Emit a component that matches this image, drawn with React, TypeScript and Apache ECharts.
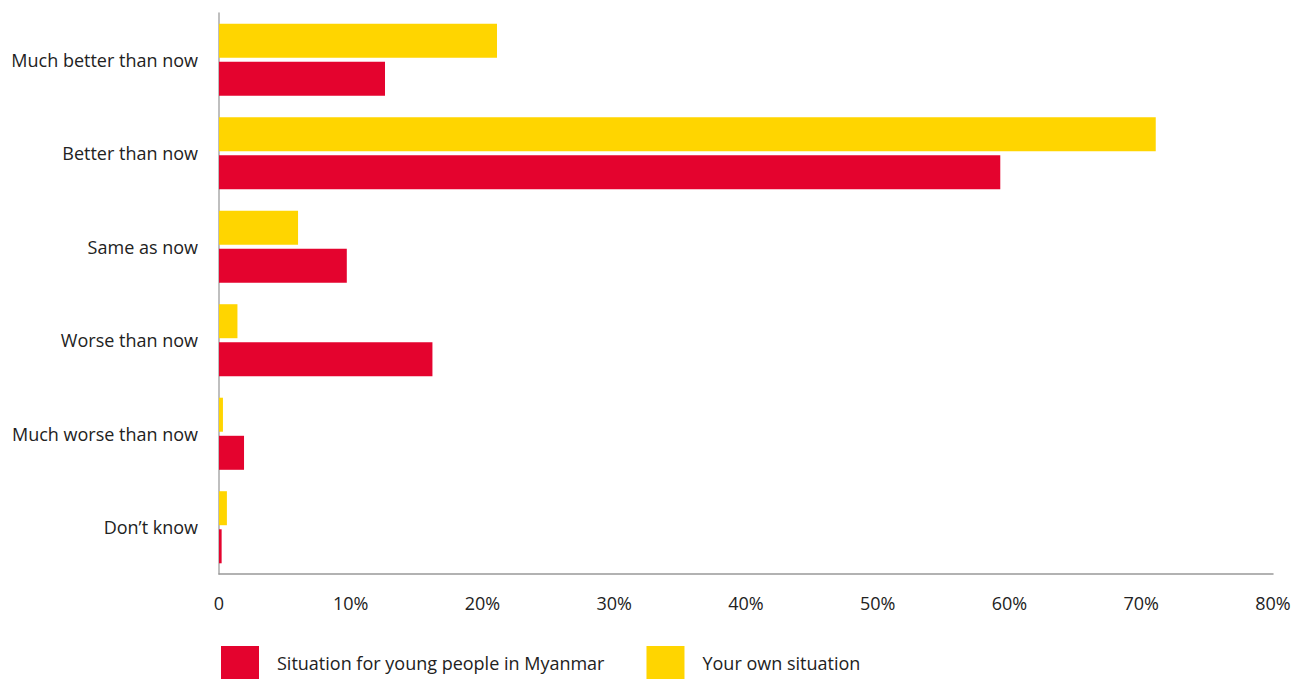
import React, { useEffect, useRef } from "react";
import * as echarts from "echarts";

const categories = [
  "Much better than now",
  "Better than now",
  "Same as now",
  "Worse than now",
  "Much worse than now",
  "Don\u2019t know",
];
const ownSituation = [21.1, 71.1, 6.0, 1.4, 0.3, 0.6];
const youngPeople = [12.6, 59.3, 9.7, 16.2, 1.9, 0.2];
const xTicks = [0, 10, 20, 30, 40, 50, 60, 70, 80];

const FONT = "'Open Sans', 'Noto Sans', sans-serif";

export default function App() {
  const ref = useRef<HTMLDivElement>(null);
  useEffect(() => {
    if (!ref.current) return;
    const chart = echarts.init(ref.current, undefined, { renderer: "svg" });
    chart.setOption({
      animation: false,
      textStyle: { fontFamily: FONT },
      grid: { left: 219, right: 33, top: 13, bottom: 105, containLabel: false },
      legend: {
        data: ["Situation for young people in Myanmar", "Your own situation"],
        left: 221,
        top: 646,
        itemWidth: 38,
        itemHeight: 33,
        itemGap: 42,
        icon: "rect",
        textStyle: { fontSize: 18, color: "#222", fontFamily: FONT, padding: [0, 0, 0, 13] },
        padding: 0,
      },
      xAxis: {
        type: "value",
        min: xTicks[0],
        max: xTicks[xTicks.length - 1],
        interval: 10,
        splitLine: { show: false },
        axisLine: { show: true, lineStyle: { color: "#999", width: 1.5 } },
        axisTick: { show: false },
        axisLabel: {
          fontSize: 18,
          color: "#222",
          margin: 20,
          formatter: (v: number) => (v === 0 ? "0" : v + "%"),
        },
      },
      yAxis: {
        type: "category",
        data: categories,
        inverse: true,
        axisLine: { show: true, lineStyle: { color: "#aaa", width: 1.5 } },
        axisTick: { show: false },
        axisLabel: { fontSize: 18, color: "#222", margin: 21 },
      },
      series: [
        {
          name: "Your own situation",
          type: "bar",
          data: ownSituation,
          barWidth: 34,
          barGap: "12%",
          itemStyle: { color: "#FFD500" },
        },
        {
          name: "Situation for young people in Myanmar",
          type: "bar",
          data: youngPeople,
          barWidth: 34,
          barGap: "12%",
          itemStyle: { color: "#E4032E" },
        },
      ],
    });
    return () => chart.dispose();
  }, []);
  return (
    <div
      ref={ref}
      style={{ position: "fixed", left: 0, top: 0, width: 1306, height: 679, background: "#fff" }}
    />
  );
}
